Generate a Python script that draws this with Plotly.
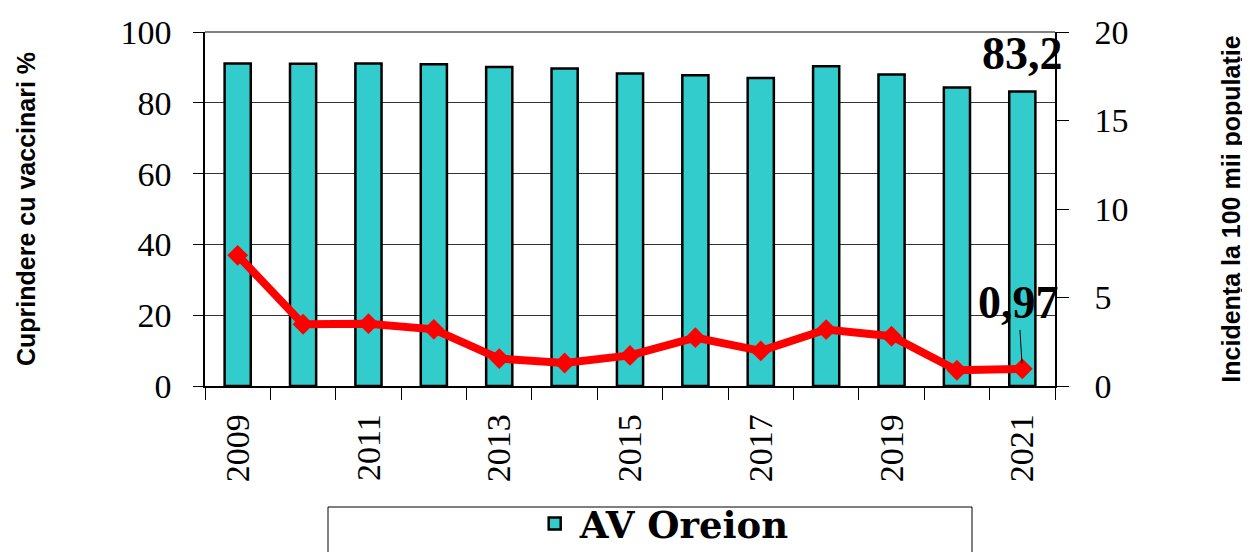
import plotly.graph_objects as go

years = [2009, 2010, 2011, 2012, 2013, 2014, 2015, 2016, 2017, 2018, 2019, 2020, 2021]
coverage = [91.1, 91.0, 91.1, 90.9, 90.1, 89.7, 88.3, 87.8, 87.0, 90.3, 88.0, 84.3, 83.2]
incidence = [7.38, 3.49, 3.52, 3.20, 1.55, 1.30, 1.73, 2.73, 1.98, 3.19, 2.81, 0.89, 0.97]
label_years = [2009, 2011, 2013, 2015, 2017, 2019, 2021]
bar_name = "AV Oreion"
left_title = "Cuprindere cu vaccinari %"
right_title = "Incidența la 100 mii populație"

SERIF = "Liberation Serif"
SANS = "Liberation Sans"

# page body has an 8px default margin: figure is drawn 8px lower/right
W, H = 1242, 544
L, T = 197, 24
PW, PH = 850, 354

fig = go.Figure()
fig.add_trace(go.Bar(
    x=years, y=coverage, name=bar_name, width=0.4,
    marker=dict(color="#33CCCC", line=dict(color="#000000", width=2.5)),
    showlegend=True,
))
fig.add_trace(go.Scatter(
    x=years, y=incidence, yaxis="y2", mode="lines+markers",
    line=dict(color="#FF0000", width=8),
    marker=dict(symbol="diamond", size=16, color="#FF0000"),
    showlegend=False, name="Incidența",
))

half = [y - 0.5 for y in years] + [years[-1] + 0.5]

fig.update_layout(
    width=W, height=H,
    margin=dict(l=L, r=W - L - PW, t=T, b=H - T - PH, autoexpand=False),
    paper_bgcolor="white", plot_bgcolor="white",
    font=dict(family=SERIF, size=34, color="black"),
    xaxis=dict(
        range=[years[0] - 0.5, years[-1] + 0.5], automargin=False,
        tickmode="array", tickvals=label_years,
        ticktext=[str(y) for y in label_years],
        tickangle=-90, ticks="", ticklabelstandoff=13,
        showline=True, linecolor="black", linewidth=1.5,
        showgrid=False, zeroline=False,
        minor=dict(tickmode="array", tickvals=half, ticks="outside",
                   ticklen=12, tickcolor="black", tickwidth=1, showgrid=False),
        tickfont=dict(family=SERIF, size=34),
    ),
    yaxis=dict(
        range=[0, 100], tickvals=[0, 20, 40, 60, 80, 100], automargin=False,
        ticks="outside", ticklen=10, tickcolor="black",
        ticklabelstandoff=15,
        showline=True, linecolor="black", linewidth=1.5,
        showgrid=True, gridcolor="#333333", gridwidth=1, zeroline=False,
        tickfont=dict(family=SERIF, size=34),
        title=dict(text=left_title, standoff=78,
                   font=dict(family=SANS, size=25, color="black", weight="bold")),
    ),
    yaxis2=dict(
        range=[0, 20], tickvals=[0, 5, 10, 15, 20], automargin=False,
        overlaying="y", side="right",
        ticks="outside", ticklen=12, tickcolor="black",
        ticklabelstandoff=19,
        showline=True, linecolor="black", linewidth=1.5,
        showgrid=False, zeroline=False,
        tickfont=dict(family=SERIF, size=34),
        title=dict(text=right_title, standoff=95,
                   font=dict(family=SANS, size=25, color="black", weight="bold")),
    ),
    legend=dict(
        orientation="h", x=0.382, xanchor="left", y=-0.302, yanchor="top",
        font=dict(family="DejaVu Serif", size=37, color="black", weight="bold"),
        bgcolor="rgba(0,0,0,0)", borderwidth=0, itemwidth=40,
    ),
    showlegend=True,
)

# top frame line and legend box
fig.add_shape(type="line", xref="paper", yref="paper", x0=0, x1=1, y0=1, y1=1,
              line=dict(color="#808080", width=2))
fig.add_shape(type="rect", xref="paper", yref="paper",
              x0=(328 - 205) / PW, x1=(972 - 205) / PW, y0=-0.6, y1=-(507 - 386) / PH,
              line=dict(color="black", width=1), fillcolor="rgba(0,0,0,0)")

fig.add_annotation(x=years[-1], y=coverage[-1], xref="x", yref="y",
                   text=f"{coverage[-1]:.1f}".replace(".", ","), showarrow=False,
                   yanchor="middle", yshift=38,
                   font=dict(family=SERIF, size=46, color="black", weight="bold"))
fig.add_annotation(x=years[-1], y=incidence[-1], xref="x", yref="y2",
                   text=f"{incidence[-1]:.2f}".replace(".", ","), showarrow=True,
                   arrowhead=0, arrowwidth=1, arrowcolor="black", ax=-4, ay=-66,
                   standoff=5,
                   font=dict(family=SERIF, size=46, color="black", weight="bold"))

fig.write_html("out.html")
